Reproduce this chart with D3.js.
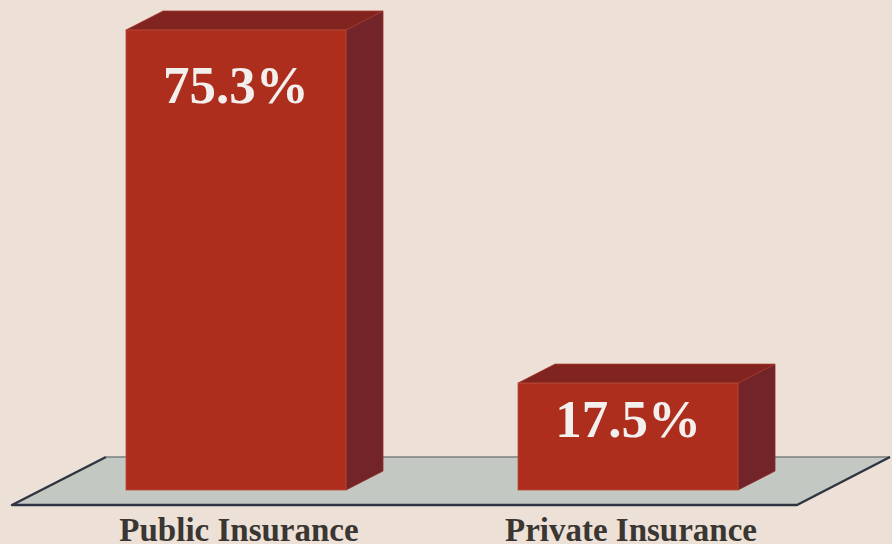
<!DOCTYPE html>
<html>
<head>
<meta charset="utf-8">
<script src="https://cdn.jsdelivr.net/npm/d3@7"></script>
<style>
  html, body { margin: 0; padding: 0; background: #ede0d7; }
  svg { display: block; }
</style>
</head>
<body>
<div id="container"></div>
<script>
var categories = ["Public Insurance", "Private Insurance"];
var values = [75.3, 17.5];
var valueLabels = ["75.3%", "17.5%"];

var width = 892,
    height = 544;

// fake 3d depth of the boxes
var dx = 37, dy = -19;

var svg = d3.select("#container").append("svg")
    .attr("width", width)
    .attr("height", height);

svg.append("rect")
    .attr("width", width)
    .attr("height", height)
    .attr("fill", "#ede0d7");

var x = d3.scaleBand()
    .domain(categories)
    .range([126, 738])
    .paddingInner(0.4388)
    .paddingOuter(0);

var y = d3.scaleLinear()
    .domain([0, d3.max(values)])
    .range([490, 30]);

// floor
var floor = svg.append("g");
floor.append("polygon")
    .attr("points", "12,505 106,457 890,457 797,505")
    .attr("fill", "#c4c8c3");
floor.append("line")
    .attr("x1", 106).attr("y1", 457).attr("x2", 890).attr("y2", 457)
    .attr("stroke", "#7d7f80").attr("stroke-width", 1.5);
floor.append("polyline")
    .attr("points", "106,457 12,505 797,505 890,457")
    .attr("fill", "none")
    .attr("stroke", "#2f3540")
    .attr("stroke-width", 2.5)
    .attr("stroke-linejoin", "round");

var data = categories.map(function(c, i) {
    return {cat: c, value: values[i], label: valueLabels[i]};
});

var bars = svg.selectAll("g.bar")
    .data(data)
    .enter().append("g")
    .attr("class", "bar");

// side face
bars.append("polygon")
    .attr("points", function(d) {
        var x1 = x(d.cat) + x.bandwidth(), t = y(d.value), b = y(0);
        return [[x1, t], [x1 + dx, t + dy], [x1 + dx, b + dy], [x1, b]].join(" ");
    })
    .attr("fill", "#722428")
    .attr("stroke", "#8e2a25")
    .attr("stroke-width", 0.8);

// top face
bars.append("polygon")
    .attr("points", function(d) {
        var x0 = x(d.cat), x1 = x0 + x.bandwidth(), t = y(d.value);
        return [[x0, t], [x0 + dx, t + dy], [x1 + dx, t + dy], [x1, t]].join(" ");
    })
    .attr("fill", "#81231f")
    .attr("stroke", "#a33a2e")
    .attr("stroke-width", 0.8);

// front face
bars.append("rect")
    .attr("x", function(d) { return x(d.cat); })
    .attr("y", function(d) { return y(d.value); })
    .attr("width", x.bandwidth())
    .attr("height", function(d) { return y(0) - y(d.value); })
    .attr("fill", "#ae2e1d")
    .attr("stroke", "#b84a3a")
    .attr("stroke-width", 0.8);

bars.append("text")
    .attr("x", function(d) { return x(d.cat) + x.bandwidth() / 2; })
    .attr("y", function(d) {
        var h = y(0) - y(d.value);
        return y(d.value) + Math.min(73, h / 2);
    })
    .attr("text-anchor", "middle")
    .attr("font-family", "'Liberation Serif', 'Times New Roman', serif")
    .attr("font-weight", "bold")
    .attr("font-size", "53px")
    .attr("fill", "#f2efed")
    .text(function(d) { return d.label; });

// category labels
svg.selectAll("text.cat")
    .data(categories)
    .enter().append("text")
    .attr("class", "cat")
    .attr("x", function(d) { return x(d) + x.bandwidth() / 2 + 3; })
    .attr("y", 541)
    .attr("text-anchor", "middle")
    .attr("font-family", "'Liberation Serif', 'Times New Roman', serif")
    .attr("font-weight", "bold")
    .attr("font-size", "33px")
    .attr("fill", "#3a3632")
    .text(function(d) { return d; });
</script>
</body>
</html>
